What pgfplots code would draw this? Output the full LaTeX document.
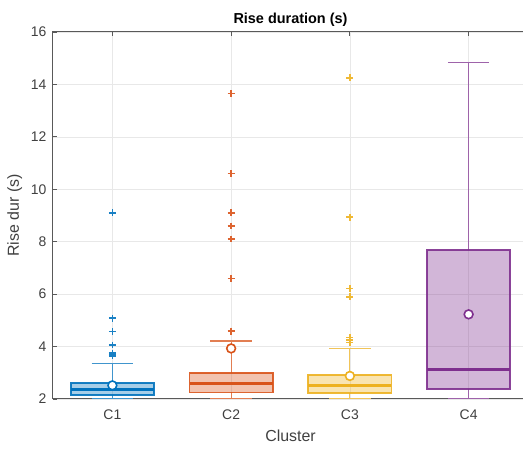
\documentclass[border=0pt]{standalone}
\usepackage{pgfplots}
\pgfplotsset{compat=1.18}
\usepgfplotslibrary{statistics}
\usepackage{fontspec}
\setmainfont{Liberation Sans}
\definecolor{cA}{rgb}{0,0.447,0.741}
\definecolor{cB}{rgb}{0.85,0.325,0.098}
\definecolor{cC}{rgb}{0.929,0.694,0.125}
\definecolor{cD}{rgb}{0.494,0.184,0.556}
\definecolor{axgray}{gray}{0.35}
\pgfplotsset{
  mybox/.style={
    draw=#1, color=#1, solid,
    mark=+, mark size=3.4bp, mark options={line width=1.7bp, solid, draw=#1!90!white},
    boxplot/every box/.style={fill=#1, fill opacity=0.35, draw=#1, draw opacity=0.9, line width=1.8bp},
    boxplot/every median/.style={draw=#1, line width=2.8bp},
    boxplot/every whisker/.style={draw=#1!75!white, line width=1.2bp},
  },
  mymean/.style={only marks, mark=*, mark size=4.4bp, mark options={fill=white, draw=#1, line width=1.6bp}},
}
\begin{document}
\begin{tikzpicture}
\begin{axis}[
  scale only axis, width=475bp, height=367bp,
  xmin=0.5, xmax=4.5, ymin=2, ymax=16,
  xtick={1,2,3,4}, xticklabels={C1,C2,C3,C4},
  ytick={2,4,...,16},
  grid=major, major grid style={gray!18, line width=0.7bp},
  axis line style={axgray, line width=1bp},
  tick style={axgray, line width=0.8bp},
  major tick length=4bp,
  tick label style={font=\fontsize{14}{16}\selectfont, text=black!75},
  yticklabel style={xshift=-3bp},
  xticklabel style={yshift=-7bp},
  xlabel={Cluster}, ylabel={Rise dur (s)},
  label style={font=\fontsize{16}{18}\selectfont, text=black!75},
  xlabel style={yshift=-4bp},
  ylabel style={yshift=2bp},
  title={Rise duration (s)},
  title style={font=\bfseries\fontsize{14.5}{16}\selectfont, yshift=-4bp},
  /pgf/number format/assume math mode=true,
  boxplot/draw direction=y,
  boxplot/box extend=0.7, boxplot/whisker extend=0.35,
  clip=true,
]
\addplot[mybox=cA, boxplot prepared={draw position=1, lower whisker=2.0, lower quartile=2.14, median=2.37, upper quartile=2.60, upper whisker=3.35}]
  table[row sep=\\, y index=0] {9.1\\5.08\\4.57\\4.06\\3.75\\3.7\\3.65\\};
\addplot[mybox=cB, boxplot prepared={draw position=2, lower whisker=2.0, lower quartile=2.25, median=2.60, upper quartile=2.98, upper whisker=4.21}]
  table[row sep=\\, y index=0] {13.65\\10.6\\9.1\\8.6\\8.1\\6.6\\4.59\\};
\addplot[mybox=cC, boxplot prepared={draw position=3, lower whisker=2.0, lower quartile=2.22, median=2.53, upper quartile=2.92, upper whisker=3.93}]
  table[row sep=\\, y index=0] {14.25\\8.93\\6.22\\5.9\\4.35\\4.25\\4.15\\};
\addplot[mybox=cD, boxplot prepared={draw position=4, lower whisker=2.0, lower quartile=2.38, median=3.13, upper quartile=7.68, upper whisker=14.85}]
  coordinates {};
\addplot[mymean=cA] coordinates {(1,2.52)};
\addplot[mymean=cB] coordinates {(2,3.93)};
\addplot[mymean=cC] coordinates {(3,2.88)};
\addplot[mymean=cD] coordinates {(4,5.23)};
\end{axis}
\pgfresetboundingbox
\path[use as bounding box] ([shift={(-53bp,-52bp)}]current axis.south west) rectangle ([shift={(470bp,399bp)}]current axis.south west);
\end{tikzpicture}
\end{document}
